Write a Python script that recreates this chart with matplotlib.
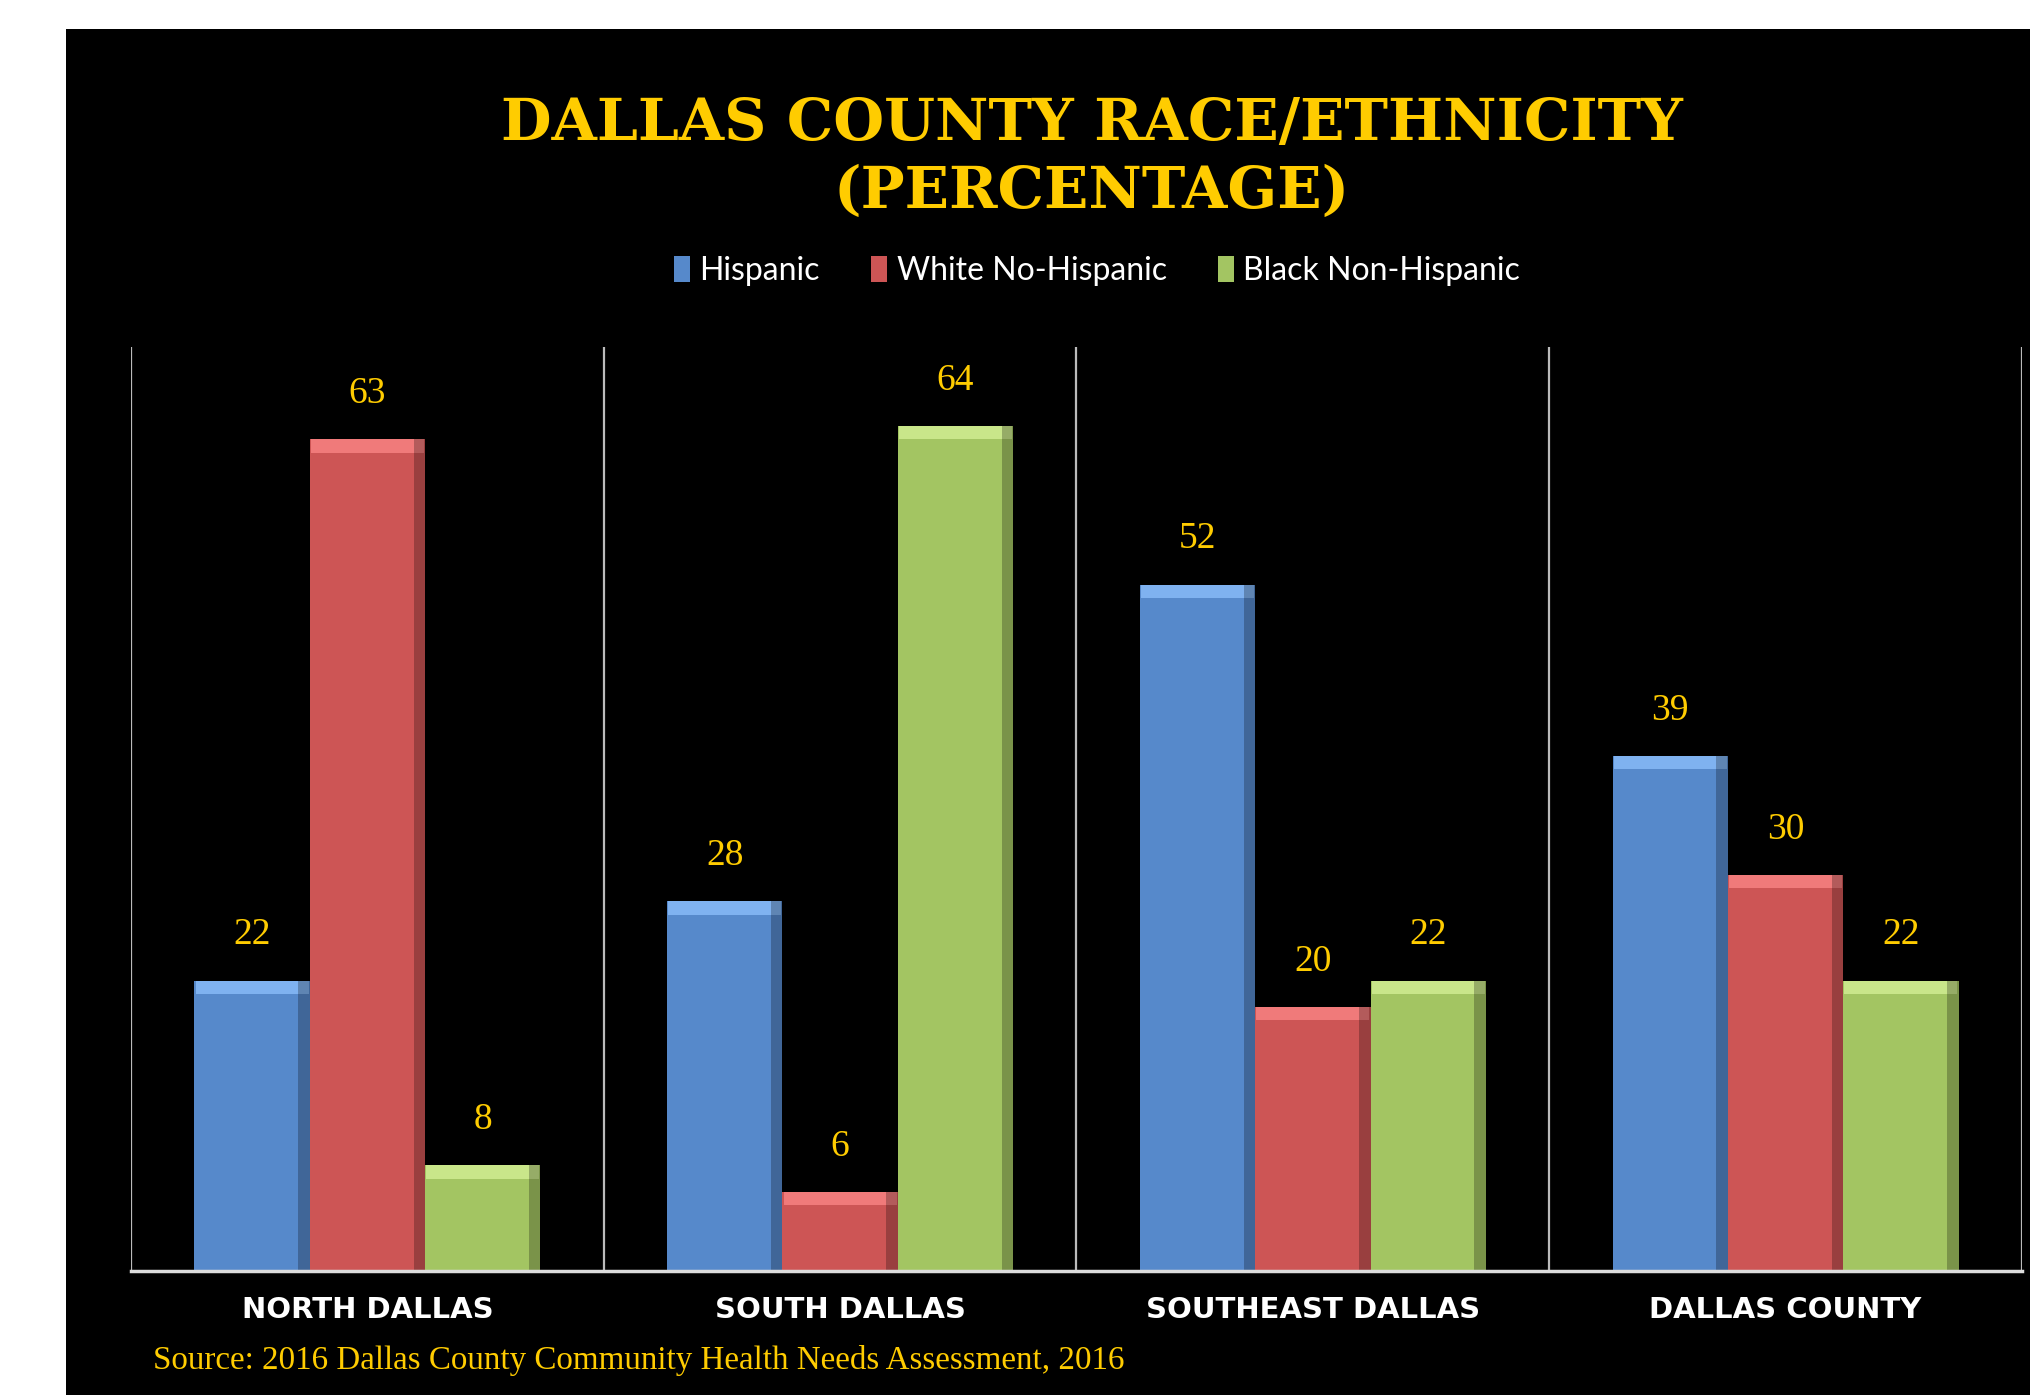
import matplotlib
matplotlib.use("Agg")
import matplotlib.pyplot as plt
import numpy as np
from matplotlib.patches import Rectangle

# data
regions = ["NORTH DALLAS", "SOUTH DALLAS", "SOUTHEAST DALLAS", "DALLAS COUNTY"]
series = ["Hispanic", "White No-Hispanic", "Black Non-Hispanic"]
hispanic = [22, 28, 52, 39]
white = [63, 6, 20, 30]
black = [8, 64, 22, 22]

colors = ["#5689CB", "#CD5555", "#A3C562"]
tops = ["#7FB2F0", "#F07A7A", "#C9E68A"]
gold = "#FFCC00"

fig = plt.figure(figsize=(20.31, 13.95), dpi=100, facecolor="white")
# black panel with white margin top / left
fig.patches.append(Rectangle((66 / 2031, 0), 1, 1 - 29 / 1395, transform=fig.transFigure,
                             facecolor="black", edgecolor="none", zorder=-10))

ax = fig.add_axes([131 / 2031, 1 - 1271 / 1395, (2022 - 131) / 2031, (1271 - 347) / 1395])
ax.set_facecolor("none")
ax.set_zorder(2)

x = np.arange(len(regions))
w = 0.244
bevel = 1.0
for i, (vals, c, tc, name) in enumerate(zip([hispanic, white, black], colors, tops, series)):
    pos = x + (i - 1) * w
    ax.bar(pos, vals, width=w, color=c, label=name, zorder=3)
    # lighter top strip and darker right edge for the bevel look
    ax.bar(pos, [bevel] * len(vals), bottom=np.array(vals) - bevel, width=w * 0.98, color=tc, zorder=4)
    ax.bar(pos + w * 0.45, vals, width=w * 0.1, color="black", alpha=0.25, zorder=4)
    for p, v in zip(pos, vals):
        ax.annotate(str(v), (p, v), xytext=(0, 26), textcoords="offset points",
                    ha="center", va="baseline", color=gold, fontsize=27,
                    family="Liberation Serif", zorder=5)

ax.set_xlim(-0.5, len(regions) - 0.5)
ax.set_ylim(0, 70)
ax.vlines(np.arange(len(regions) + 1) - 0.5, 0, 70, color="#BBBBBB", lw=1.6, zorder=2)

for s in ["top", "left", "right"]:
    ax.spines[s].set_visible(False)
ax.spines["bottom"].set_color("#DDDDDD")
ax.spines["bottom"].set_linewidth(2.5)
ax.spines["bottom"].set_zorder(6)
ax.set_yticks([])
ax.set_xticks(x)
ax.set_xticklabels(regions, color="white", fontsize=21, fontweight="bold", family="DejaVu Sans")
ax.tick_params(axis="x", length=0, pad=18)

fig.text(1092 / 2031, 1 - 158 / 1395, "DALLAS COUNTY RACE/ETHNICITY\n(PERCENTAGE)",
         ha="center", va="center", color=gold, fontsize=42, fontweight="bold",
         family="DejaVu Serif", linespacing=1.29)

leg = fig.legend(loc="center", bbox_to_anchor=(1097 / 2031, 1 - 271 / 1395), ncol=3,
                 frameon=False, handlelength=0.5, handleheight=0.85,
                 handletextpad=0.3, columnspacing=1.6, prop={"family": "Lato", "size": 23})
for t in leg.get_texts():
    t.set_color("white")

fig.text(153 / 2031, 1 - 1360 / 1395,
         "Source: 2016 Dallas County Community Health Needs Assessment, 2016",
         ha="left", va="center", color=gold, fontsize=23.8, family="Liberation Serif")

fig.savefig("out.png", dpi=100, facecolor="white")
